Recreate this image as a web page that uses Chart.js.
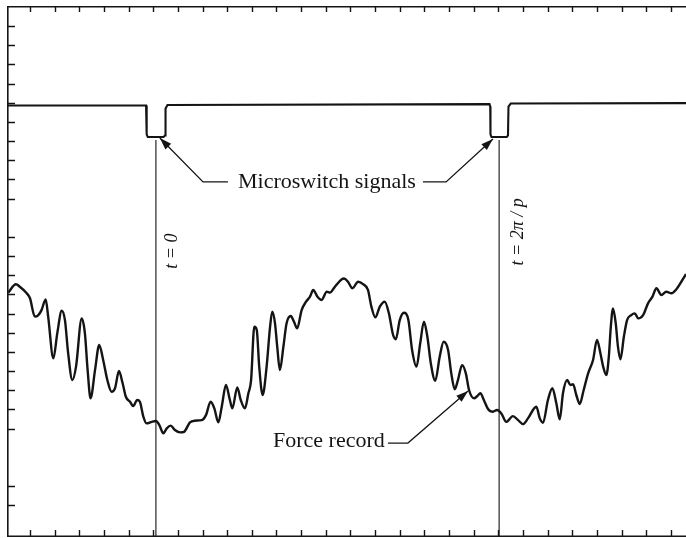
<!DOCTYPE html>
<html>
<head>
<meta charset="utf-8">
<script src="https://cdn.jsdelivr.net/npm/chart.js@4.4.1/dist/chart.umd.min.js"></script>
<style>
  html, body { margin: 0; padding: 0; background: #fff; }
  canvas { display: block; }
</style>
</head>
<body>
<canvas id="myChart" width="686" height="538"></canvas>
<script>
// all values in chart-paper divisions (x = time, y = recorder level)
const forceX = [
  0.12, 0.43, 0.59, 0.87, 1.00, 1.20, 1.34, 1.47, 1.64, 1.74,
  1.95, 2.11, 2.29, 2.42, 2.55, 2.72, 2.87, 3.10, 3.23, 3.34,
  3.46, 3.64, 3.81, 3.97, 4.14, 4.31, 4.45, 4.61, 4.76, 4.89,
  5.06, 5.19, 5.35, 5.46, 5.60, 5.73, 5.94, 6.11, 6.25, 6.41,
  6.55, 6.71, 6.88, 7.09, 7.25, 7.49, 7.69, 7.97, 8.14, 8.33,
  8.48, 8.64, 8.78, 8.95, 9.11, 9.21, 9.41, 9.55, 9.72, 9.86,
  9.97, 10.10, 10.20, 10.30, 10.44, 10.60, 10.74, 10.83, 10.94, 11.03,
  11.14, 11.28, 11.41, 11.58, 11.71, 11.84, 12.02, 12.20, 12.36, 12.49,
  12.66, 12.83, 13.04, 13.17, 13.37, 13.65,
  13.74, 13.90, 14.08, 14.31, 14.51, 14.71, 14.85, 15.01, 15.19, 15.39,
  15.56, 15.73, 15.84, 16.00, 16.17, 16.35, 16.50, 16.68, 16.83, 16.98,
  17.12, 17.26, 17.44, 17.62, 17.78, 17.96, 18.09, 18.23, 18.36, 18.53,
  18.68, 18.81, 19.01, 19.15, 19.27, 19.41, 19.58, 19.78, 19.95, 20.12,
  20.32, 20.59, 20.80, 21.00, 21.20, 21.54, 21.68, 21.81, 22.01, 22.19,
  22.35, 22.49, 22.62, 22.79, 22.92, 23.03, 23.16, 23.30, 23.46, 23.64,
  23.84, 24.00, 24.14, 24.25, 24.38, 24.48, 24.56, 24.65, 24.76, 24.85,
  24.95, 25.09, 25.22, 25.39, 25.53, 25.67, 25.87, 26.07, 26.25, 26.41,
  26.61, 26.81, 27.02, 27.22, 27.42, 27.61
];
const forceY = [
  12.09, 12.53, 12.40, 12.06, 11.81, 10.84, 10.92, 11.18, 11.74, 10.84,
  8.66, 9.98, 11.15, 10.66, 8.94, 7.53, 8.23, 10.75, 9.97, 8.05,
  6.58, 8.05, 9.36, 8.58, 7.53, 6.92, 7.10, 8.00, 7.36, 6.66,
  6.40, 6.17, 6.49, 6.40, 5.62, 5.27, 5.35, 5.39, 5.18, 4.75,
  5.01, 5.15, 4.92, 4.80, 4.83, 5.32, 5.41, 5.44, 5.70, 6.40,
  6.05, 5.32, 6.14, 7.27, 6.49, 6.05, 7.15, 6.49, 6.05, 6.84,
  7.53, 10.31, 10.14, 8.23, 6.75, 8.23, 10.31, 11.10, 10.49, 9.27,
  8.05, 9.27, 10.49, 10.87, 10.57, 10.23, 11.18, 11.62, 11.88, 12.23,
  11.88, 11.71, 12.14, 12.09, 12.40, 12.79,
  12.83, 12.66, 12.32, 12.66, 12.54, 12.23, 11.36, 10.80, 11.36, 11.62,
  11.01, 9.88, 9.66, 10.66, 11.04, 10.66, 9.10, 8.23, 9.45, 10.57,
  9.79, 8.40, 7.49, 8.75, 9.53, 9.10, 7.88, 7.05, 7.53, 8.31,
  7.88, 7.01, 6.58, 6.70, 6.84, 6.49, 6.02, 5.88, 5.97, 5.79,
  5.35, 5.65, 5.44, 5.23, 5.53, 6.14, 5.53, 5.30, 6.49, 7.10,
  6.32, 5.48, 6.84, 7.53, 7.27, 7.31, 6.75, 6.28, 7.01, 7.88,
  8.58, 9.62, 8.92, 8.23, 7.79, 8.75, 10.31, 11.27, 10.49, 9.27,
  8.61, 9.79, 10.66, 10.92, 11.01, 10.75, 10.92, 11.53, 11.88, 12.32,
  11.97, 12.14, 12.06, 12.27, 12.66, 13.06
];

const signalX = [
  0.07, 5.71, 5.73, 5.74, 5.78, 6.42, 6.48, 6.50, 6.58,
  19.64, 19.67, 19.68, 19.72, 20.34, 20.39, 20.41, 20.50, 27.61
];
const signalY = [
  21.86, 21.86, 21.75, 20.35, 20.21, 20.21, 20.30, 21.70, 21.88,
  21.93, 21.80, 20.35, 20.21, 20.21, 20.30, 21.80, 21.96, 21.98
];

// t = 0 and t = 2pi/p
const markTimes = [6.11, 20.03];
const markLabels = ['t = 0', 't = 2\u03c0 / p'];

const xTicks = [1, 2, 3, 4, 5, 6, 7, 8, 9, 10, 11, 12, 13, 14, 15, 16, 17, 18, 19, 20, 21, 22, 23, 24, 25, 26, 27];
const yTicks = [1, 2, 5, 6, 7, 8, 9, 10, 11, 12, 13, 14, 15, 17, 18, 19, 20, 21, 22, 23, 24, 25, 26];

// annotation placement (data units)
const markLabelPos = [[6.76, 14.26], [20.80, 15.26]];
const notes = [
  { text: 'Microswitch signals', x: 9.44, y: 17.55 },
  { text: 'Force record', x: 10.86, y: 4.03 }
];
const leaders = [
  [[9.03, 17.87], [8.02, 17.87], [6.27, 20.16]],
  [[16.94, 17.87], [17.88, 17.87], [19.78, 20.11]],
  [[15.52, 4.24], [16.33, 4.24], [18.77, 6.96]]
];

const ink = '#141414';

const paperFrame = {
  id: 'paperFrame',
  afterDatasetsDraw(chart) {
    const { ctx, chartArea: a, scales: { x, y } } = chart;
    ctx.save();
    ctx.strokeStyle = ink;
    ctx.lineWidth = 1.6;
    ctx.beginPath();
    ctx.moveTo(a.right, a.top + 0.8);
    ctx.lineTo(a.left + 0.8, a.top + 0.8);
    ctx.lineTo(a.left + 0.8, a.bottom - 0.8);
    ctx.lineTo(a.right, a.bottom - 0.8);
    ctx.stroke();

    ctx.lineWidth = 1.4;
    ctx.beginPath();
    xTicks.forEach(v => {
      const px = Math.round(x.getPixelForValue(v)) + 0.5;
      ctx.moveTo(px, a.top);
      ctx.lineTo(px, a.top + 6);
      ctx.moveTo(px, a.bottom);
      ctx.lineTo(px, a.bottom - 7);
    });
    yTicks.forEach(v => {
      const py = Math.round(y.getPixelForValue(v)) + 0.5;
      ctx.moveTo(a.left, py);
      ctx.lineTo(a.left + 8, py);
    });
    ctx.stroke();
    ctx.restore();
  }
};

const notesPlugin = {
  id: 'notesPlugin',
  afterDatasetsDraw(chart) {
    const { ctx, scales: { x, y } } = chart;
    ctx.save();
    ctx.fillStyle = ink;
    ctx.strokeStyle = ink;

    ctx.font = '22px "Liberation Serif", "DejaVu Serif", serif';
    ctx.textBaseline = 'alphabetic';
    ctx.textAlign = 'left';
    notes.forEach(n => {
      ctx.fillText(n.text, x.getPixelForValue(n.x), y.getPixelForValue(n.y));
    });

    ctx.lineWidth = 1.3;
    leaders.forEach(pts => {
      const p = pts.map(([vx, vy]) => [x.getPixelForValue(vx), y.getPixelForValue(vy)]);
      ctx.beginPath();
      ctx.moveTo(p[0][0], p[0][1]);
      for (let i = 1; i < p.length; i++) ctx.lineTo(p[i][0], p[i][1]);
      ctx.stroke();
      const [tx, ty] = p[p.length - 1];
      const [sx, sy] = p[p.length - 2];
      const ang = Math.atan2(ty - sy, tx - sx);
      ctx.beginPath();
      ctx.moveTo(tx, ty);
      ctx.lineTo(tx - 12 * Math.cos(ang) + 4 * Math.sin(ang), ty - 12 * Math.sin(ang) - 4 * Math.cos(ang));
      ctx.lineTo(tx - 12 * Math.cos(ang) - 4 * Math.sin(ang), ty - 12 * Math.sin(ang) + 4 * Math.cos(ang));
      ctx.closePath();
      ctx.fill();
    });

    ctx.font = 'italic 18px "Liberation Serif", "DejaVu Serif", serif';
    ctx.textAlign = 'center';
    ctx.textBaseline = 'middle';
    markLabels.forEach((label, i) => {
      ctx.save();
      ctx.translate(x.getPixelForValue(markLabelPos[i][0]), y.getPixelForValue(markLabelPos[i][1]));
      ctx.rotate(-Math.PI / 2);
      ctx.fillText(label, 0, 0);
      ctx.restore();
    });
    ctx.restore();
  }
};

const markerSets = markTimes.map(t => ({
  data: [{ x: t, y: 20.06 }, { x: t, y: 11.5 }, { x: t, y: -0.66 }],
  borderColor: ink,
  borderWidth: 1.1,
  pointRadius: 0,
  tension: 0,
  segment: {
    borderDash: ctx => (ctx.p0DataIndex === 0 ? [24, 3, 2, 3] : undefined)
  }
}));

const data = {
  datasets: [
    {
      label: 'Force record',
      data: forceX.map((v, i) => ({ x: v, y: forceY[i] })),
      borderColor: ink,
      borderWidth: 2.4,
      pointRadius: 0,
      cubicInterpolationMode: 'monotone'
    },
    {
      label: 'Microswitch signals',
      data: signalX.map((v, i) => ({ x: v, y: signalY[i] })),
      borderColor: ink,
      borderWidth: 2.1,
      pointRadius: 0,
      tension: 0
    },
    ...markerSets
  ]
};

const config = {
  type: 'line',
  data: data,
  options: {
    responsive: false,
    animation: false,
    events: [],
    layout: { padding: { left: 7, top: 6, right: 0, bottom: 1 } },
    scales: {
      x: { type: 'linear', min: 0.07, max: 27.61, display: false },
      y: { type: 'linear', min: -0.66, max: 27.05, display: false }
    },
    plugins: {
      legend: { display: false },
      tooltip: { enabled: false }
    }
  },
  plugins: [paperFrame, notesPlugin]
};

const myChart = new Chart(document.getElementById('myChart'), config);
</script>
</body>
</html>
